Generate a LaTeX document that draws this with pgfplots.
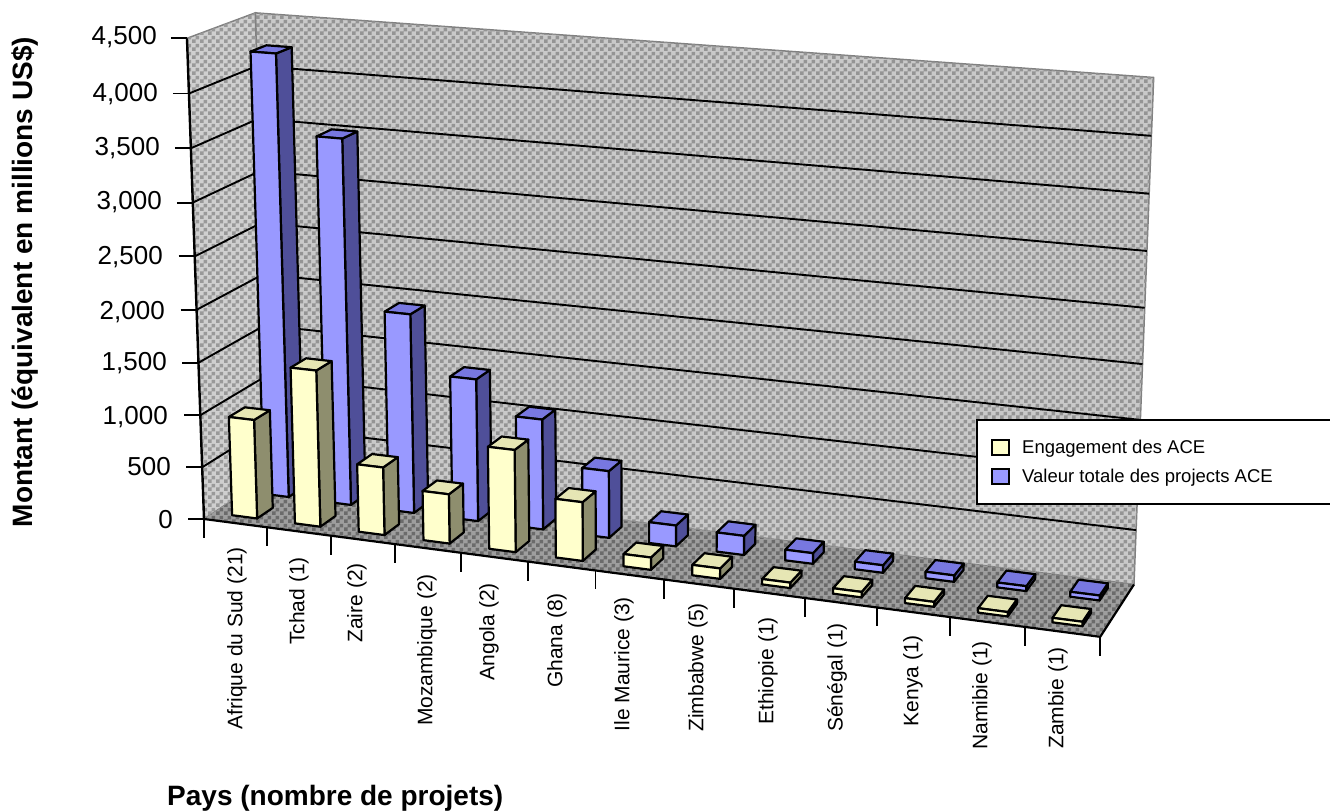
\documentclass[border=0pt]{standalone}
\usepackage{fontspec}
\setmainfont{Liberation Sans}
\usepackage{pgfplots}
\usepackage{pgfplotstable}
\pgfplotsset{compat=1.18}
\usetikzlibrary{patterns}

\definecolor{yfront}{HTML}{FFFFCC}
\definecolor{yside}{HTML}{8E8E6E}
\definecolor{ytop}{HTML}{E6E6B4}
\definecolor{bfront}{HTML}{9999FF}
\definecolor{bside}{HTML}{4F4F99}
\definecolor{btop}{HTML}{7878E0}

% two-tone screen used on the walls and the floor
\pgfdeclarepatternformonly{dither}{\pgfqpoint{0pt}{0pt}}{\pgfqpoint{8pt}{8pt}}{\pgfqpoint{8pt}{8pt}}{%
  \pgfpathrectangle{\pgfqpoint{0pt}{0pt}}{\pgfqpoint{4pt}{4pt}}%
  \pgfpathrectangle{\pgfqpoint{4pt}{4pt}}{\pgfqpoint{4pt}{4pt}}%
  \pgfusepath{fill}}

% amounts per country, millions of US$
\pgfplotstableread{
idx engagement total
0   950   4240
1   1490  3500
2   645   1910
3   468   1360
4   960   1050
5   550   635
6   115   198
7   97    181
8   50    100
9   50    70
10  45    60
11  40    45
12  40    45
}\amounts

% central projection of the chart box: s along the countries, t in depth, z in height
\newcommand\startpoly{\def\pts{}}
\newcommand\project[3]{%
  \pgfmathsetmacro\pw{1-0.0947*(#1)+0.04*(#2)-0.0368*(#3)}%
  \pgfmathsetmacro\px{(204+792*(#1)+76*(#2)-23.9*(#3))/\pw}%
  \pgfmathsetmacro\py{(519+57.5*(#1)-24*(#2)-482.1*(#3))/\pw}}
\newcommand\vtx[3]{\project{#1}{#2}{#3}\edef\pts{\pts (\px,\py) }}
\newcommand\closepoly[1]{\edef\cmd{\noexpand\addplot[\unexpanded{#1},forget plot] coordinates {\pts} -- cycle;}\cmd}
\newcommand\openline[1]{\edef\cmd{\noexpand\addplot[\unexpanded{#1},forget plot] coordinates {\pts};}\cmd}

% one column: front, right side and top faces
\newcommand\barcolumn[7]{%
  \pgfmathsetmacro\sL{(#1+0.3)/13}\pgfmathsetmacro\sR{(#1+0.7)/13}\pgfmathsetmacro\zT{#4/4500}%
  \startpoly\vtx{\sR}{#2}{0}\vtx{\sR}{#3}{0}\vtx{\sR}{#3}{\zT}\vtx{\sR}{#2}{\zT}\closepoly{fill=#6,draw=black,line width=2.2pt,line join=round}%
  \startpoly\vtx{\sL}{#2}{\zT}\vtx{\sR}{#2}{\zT}\vtx{\sR}{#3}{\zT}\vtx{\sL}{#3}{\zT}\closepoly{fill=#7,draw=black,line width=2.2pt,line join=round}%
  \startpoly\vtx{\sL}{#2}{0}\vtx{\sR}{#2}{0}\vtx{\sR}{#2}{\zT}\vtx{\sL}{#2}{\zT}\closepoly{fill=#5,draw=black,line width=2.2pt,line join=round}%
}

\begin{document}
\begin{tikzpicture}
\path[use as bounding box] (0,0) rectangle (1330pt,811pt);
\begin{axis}[
  at={(0,0)}, anchor=south west,
  width=1330pt, height=811pt, scale only axis,
  xmin=0, xmax=1330, ymin=0, ymax=811, y dir=reverse,
  hide axis, clip=false,
  legend style={at={(axis cs:976,419)}, anchor=north west, draw=black, line width=2pt,
    fill=white, inner xsep=14pt, inner ysep=18pt, row sep=10pt,
    font=\fontsize{18.5}{22}\selectfont, cells={anchor=west}},
  legend image code/.code={\draw[#1,line width=2.2pt] (0pt,-7.5pt) rectangle (17pt,7.5pt);},
]
\addlegendimage{fill=yfront,draw=black}
\addlegendentry{\makebox[340pt][l]{\hspace{10pt}Engagement des ACE}}
\addlegendimage{fill=bfront,draw=black}
\addlegendentry{\makebox[340pt][l]{\hspace{10pt}Valeur totale des projects ACE}}

% back wall
\startpoly\vtx{0}{1}{0}\vtx{1}{1}{0}\vtx{1}{1}{1}\vtx{0}{1}{1}\closepoly{fill=black!21,draw=black!50,line width=1.5pt}
\startpoly\vtx{0}{1}{0}\vtx{1}{1}{0}\vtx{1}{1}{1}\vtx{0}{1}{1}\closepoly{pattern=dither,pattern color=black!42,draw=none}
% left wall
\startpoly\vtx{0}{0}{0}\vtx{0}{1}{0}\vtx{0}{1}{1}\vtx{0}{0}{1}\closepoly{fill=black!19,draw=black!50,line width=1.5pt}
\startpoly\vtx{0}{0}{0}\vtx{0}{1}{0}\vtx{0}{1}{1}\vtx{0}{0}{1}\closepoly{pattern=dither,pattern color=black!40,draw=none}
% floor
\startpoly\vtx{0}{0}{0}\vtx{1}{0}{0}\vtx{1}{1}{0}\vtx{0}{1}{0}\closepoly{fill=black!38,draw=none}
\startpoly\vtx{0}{0}{0}\vtx{1}{0}{0}\vtx{1}{1}{0}\vtx{0}{1}{0}\closepoly{pattern=dither,pattern color=black!58,draw=none}

% gridlines and value ticks
\pgfplotsforeachungrouped \lev in {500,1000,...,4000}{%
  \pgfmathsetmacro\zz{\lev/4500}%
  \startpoly\vtx{0}{0}{\zz}\vtx{0}{1}{\zz}\vtx{1}{1}{\zz}\openline{black,line width=1.9pt}%
}
\pgfplotsforeachungrouped \lev in {0,500,...,4500}{%
  \pgfmathsetmacro\zz{\lev/4500}%
  \project{0}{0}{\zz}\pgfmathsetmacro\xa{\px-16}%
  \edef\pts{(\xa,\py) (\px,\py) }\openline{black,line width=1.9pt}%
}
% front corner and front edge of the box
\startpoly\vtx{0}{0}{0}\vtx{0}{0}{1}\openline{black,line width=2.4pt}
\startpoly\vtx{0}{0}{0}\vtx{1}{0}{0}\vtx{1}{1}{0}\openline{black,line width=2.2pt}
% country ticks
\pgfplotsforeachungrouped \idx in {0,...,13}{%
  \pgfmathsetmacro\ss{\idx/13}%
  \project{\ss}{0}{0}\pgfmathsetmacro\yb{\py+19}%
  \edef\pts{(\px,\py) (\px,\yb) }\openline{black,line width=1.9pt}%
}

% rear row, then front row
\pgfplotsforeachungrouped \idx in {0,...,12}{%
  \pgfplotstablegetelem{\idx}{total}\of\amounts \let\val\pgfplotsretval
  \barcolumn{\idx}{0.63}{0.87}{\val}{bfront}{bside}{btop}%
}
\pgfplotsforeachungrouped \idx in {0,...,12}{%
  \pgfplotstablegetelem{\idx}{engagement}\of\amounts \let\val\pgfplotsretval
  \barcolumn{\idx}{0.14}{0.38}{\val}{yfront}{yside}{ytop}%
}

% value labels
\tikzset{vlab/.style={anchor=east,inner sep=0pt,font=\fontsize{26}{30}\selectfont}}
\node[vlab] at (axis cs:157,37) {4,500};
\node[vlab] at (axis cs:158,94) {4,000};
\node[vlab] at (axis cs:160,148) {3,500};
\node[vlab] at (axis cs:162,202) {3,000};
\node[vlab] at (axis cs:163,257) {2,500};
\node[vlab] at (axis cs:165,312) {2,000};
\node[vlab] at (axis cs:167,363) {1,500};
\node[vlab] at (axis cs:168,417) {1,000};
\node[vlab] at (axis cs:171,467) {500};
\node[vlab] at (axis cs:173,520) {0};

% country labels
\tikzset{clab/.style={rotate=90,anchor=east,inner sep=0pt,font=\fontsize{21}{24}\selectfont}}
\node[clab] at (axis cs:237,547) {Afrique du Sud (21)};
\node[clab] at (axis cs:299,557) {Tchad (1)};
\node[clab] at (axis cs:357,563) {Zaire (2)};
\node[clab] at (axis cs:427,574) {Mozambique (2)};
\node[clab] at (axis cs:489,583) {Angola (2)};
\node[clab] at (axis cs:557,593) {Ghana (8)};
\node[clab] at (axis cs:624,597) {Ile Maurice (3)};
\node[clab] at (axis cs:698,603) {Zimbabwe (5)};
\node[clab] at (axis cs:768,617) {Ethiopie (1)};
\node[clab] at (axis cs:837,623) {Sénégal (1)};
\node[clab] at (axis cs:913,635) {Kenya (1)};
\node[clab] at (axis cs:982,641) {Namibie (1)};
\node[clab] at (axis cs:1058,647) {Zambie (1)};

% axis titles
\node[rotate=90,inner sep=0pt,font=\bfseries\fontsize{28}{32}\selectfont] at (axis cs:25,282) {Montant (équivalent en millions US\$)};
\node[anchor=west,inner sep=0pt,font=\bfseries\fontsize{28}{32}\selectfont] at (axis cs:167,798) {Pays (nombre de projets)};
\end{axis}
\end{tikzpicture}
\end{document}
